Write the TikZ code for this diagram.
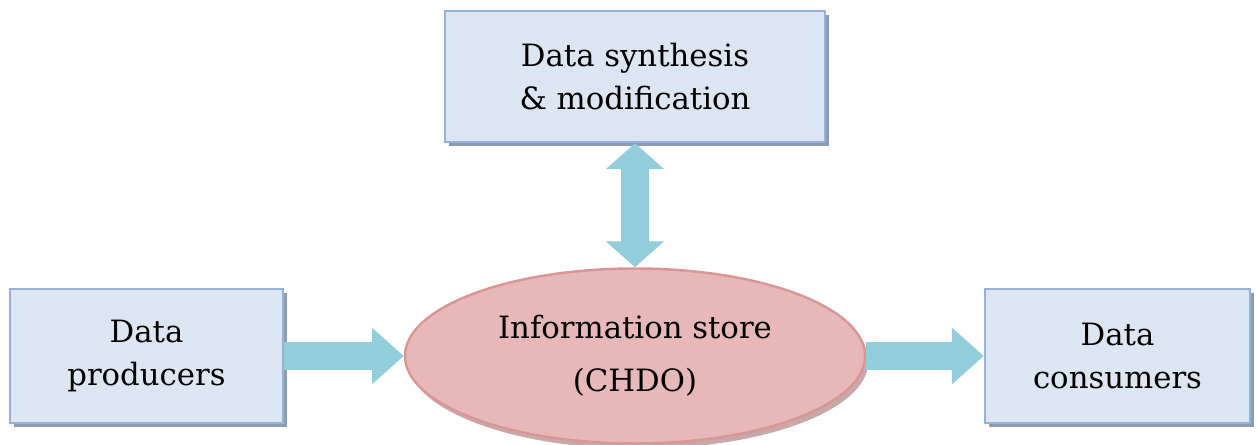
\documentclass[tikz,border=0pt]{standalone}
\usepackage{fontspec}
\setmainfont{DejaVu Serif}
\usetikzlibrary{arrows.meta}
\usetikzlibrary{shapes.geometric}
\usetikzlibrary{shadows}
\usetikzlibrary{positioning}

\definecolor{boxfill}{HTML}{DCE6F2}
\definecolor{boxline}{HTML}{95B3D7}
\definecolor{boxshadow}{HTML}{8A9DB5}
\definecolor{storefill}{HTML}{E6B9B8}
\definecolor{storeline}{HTML}{D99694}
\definecolor{storeshadow}{HTML}{B08584}
\definecolor{flowblue}{HTML}{92CDDC}

\tikzset{
  databox/.style = {draw=boxline, fill=boxfill, line width=1.4pt, align=center,
    font=\fontsize{17.5pt}{24pt}\selectfont,
    drop shadow={shadow xshift=2.4pt, shadow yshift=-2.4pt, fill=boxshadow, opacity=1}},
  storenode/.style = {ellipse, draw=storeline, fill=storefill, line width=1.4pt, align=center,
    inner sep=0pt, minimum width=9.2cm, minimum height=3.5cm,
    font=\fontsize{17.5pt}{30pt}\selectfont,
    drop shadow={shadow xshift=2pt, shadow yshift=-3pt, fill=storeshadow, opacity=0.7}},
  flow/.style = {draw=flowblue, line width=0.56cm, -{Triangle[length=0.64cm, width=1.1cm]}},
  twoway/.style = {draw=flowblue, line width=0.56cm,
    {Triangle[length=0.52cm, width=1.14cm]}-{Triangle[length=0.52cm, width=1.14cm]}}
}

\begin{document}
\begin{tikzpicture}
      \useasboundingbox (0, 0) rectangle (25.14, 8.9);

      \node[databox, minimum width=5.46cm, minimum height=2.68cm] (prod) at (2.93, 1.78) {Data\\producers};
      \node[databox, minimum width=7.6cm, minimum height=2.62cm] (synth) at (12.7, 7.37) {Data synthesis\\\& modification};
      \node[databox, minimum width=5.3cm, minimum height=2.68cm] (cons) at (22.35, 1.78) {Data\\consumers};
      \node[storenode] (store) at (12.7, 1.78) {Information store\\(CHDO)};

      \draw[flow] (prod.east) -- (store.west);
      \draw[flow] (store.east) -- (cons.west);
      \draw[twoway] (synth.south) -- (store.north);
\end{tikzpicture}
\end{document}
